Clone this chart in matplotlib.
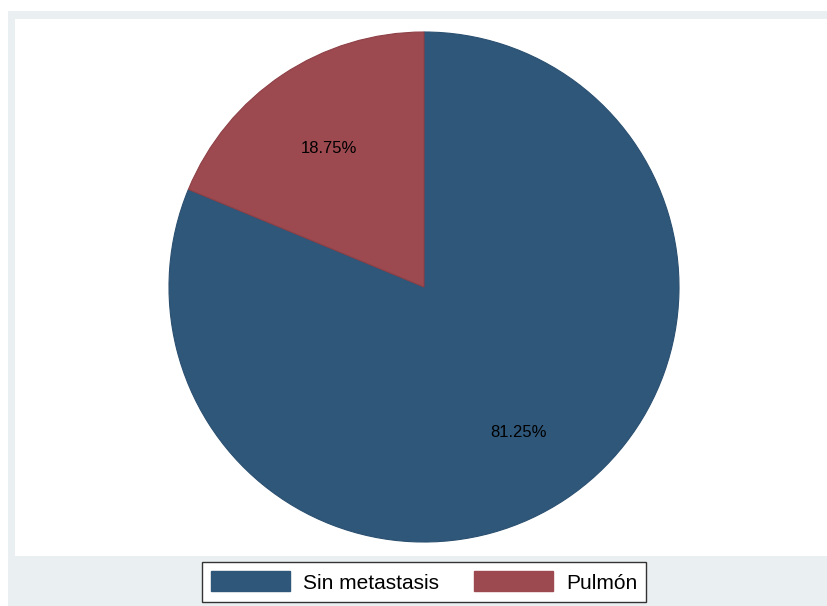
import matplotlib
matplotlib.use("Agg")
import matplotlib.pyplot as plt
from matplotlib.patches import Rectangle

categories = ["Sin metastasis", "Pulmón"]
values = [81.25, 18.75]
colors = ["#2F577A", "#9C4A50"]
edges = ["#2A4F70", "#8E4046"]

plt.rcParams['font.family'] = ['Liberation Sans', 'DejaVu Sans']

W, H = 828, 606
fig = plt.figure(figsize=(W/100, H/100), dpi=100)
fig.patch.set_facecolor("white")

def frect(x0, y0, x1, y1, **kw):
    fig.patches.append(Rectangle((x0/W, 1-y1/H), (x1-x0)/W, (y1-y0)/H,
                                 transform=fig.transFigure, figure=fig, **kw))

frect(8, 11, 828, 606, facecolor="#EAF0F1", edgecolor="none", zorder=-2)
frect(15, 19, 828, 556, facecolor="white", edgecolor="none", zorder=-1)

cx, cy, r = 424, 287, 255
ax = fig.add_axes([(cx-r)/W, 1-(cy+r)/H, 2*r/W, 2*r/H])
ax.set_zorder(1)
ax.patch.set_alpha(0)

wedges, texts, autotexts = ax.pie(values, colors=colors, startangle=90, counterclock=False,
                                  autopct=lambda p: f"{p:.2f}%", pctdistance=0.67, radius=1,
                                  textprops=dict(fontsize=12, color="black"),
                                  frame=True)
for w, e in zip(wedges, edges):
    w.set_edgecolor(e); w.set_linewidth(0.8)
for t in autotexts:
    x, y = t.get_position()
    t.set_position((x, y - 0.012))
ax.set_xlim(-1, 1); ax.set_ylim(-1, 1)
ax.axis("off")

handles = [Rectangle((0, 0), 1, 1, facecolor=c, edgecolor=c) for c in colors]
leg = fig.legend(handles, categories, loc="center", bbox_to_anchor=(424/W, 1-582/H),
                 ncol=2, fontsize=15, frameon=True, fancybox=False, framealpha=1,
                 handlelength=3.8, handleheight=1.1, handletextpad=0.6,
                 columnspacing=1.7, borderpad=0.45, borderaxespad=0)
leg.get_frame().set_edgecolor("#333333")
leg.get_frame().set_linewidth(1.0)
leg.set_zorder(2)

fig.savefig("out.png", dpi=100, facecolor="white")
